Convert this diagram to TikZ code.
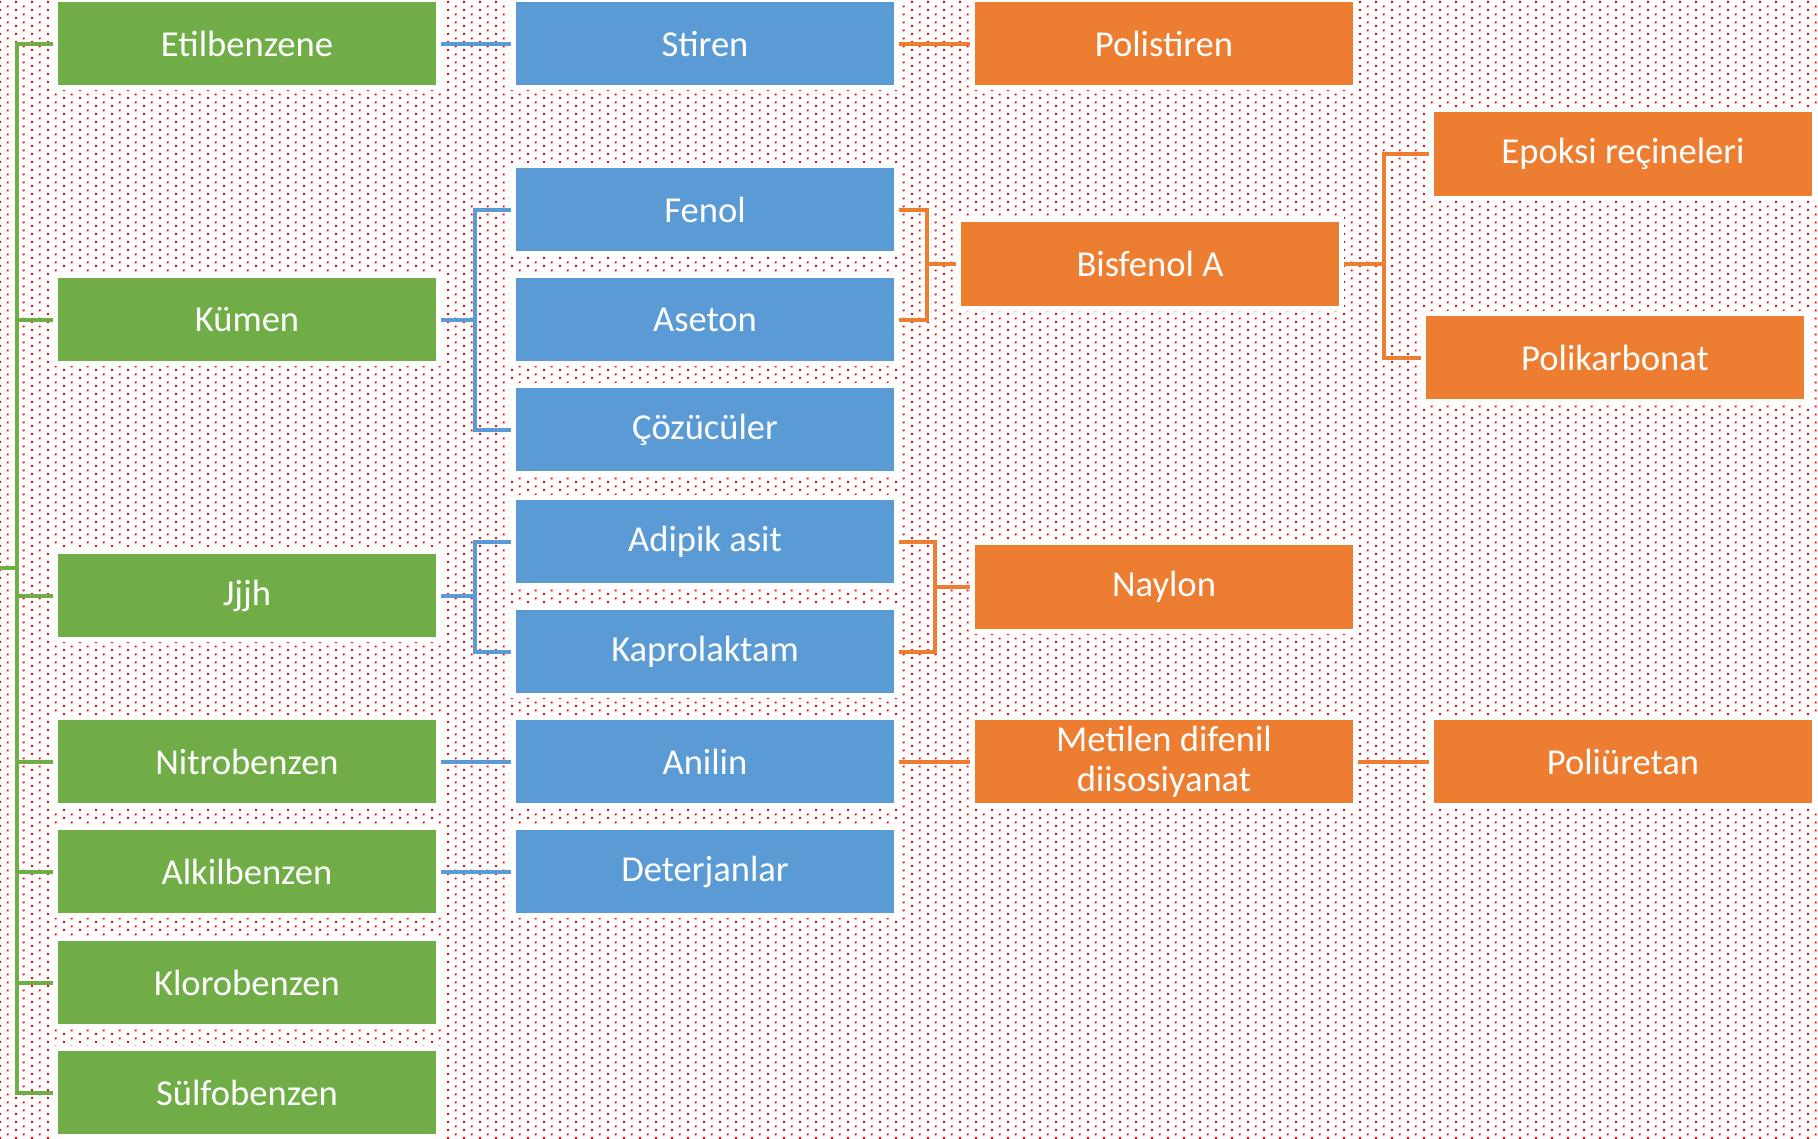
\documentclass[tikz,border=0pt]{standalone}
\usepackage{fontspec}
\setmainfont{Carlito}
\usepackage{tikz}
\usetikzlibrary{patterns}

\definecolor{grn}{HTML}{70AD47}
\definecolor{blu}{HTML}{5B9BD5}
\definecolor{org}{HTML}{ED7D31}

\pgfdeclarepatternformonly{reddots}{\pgfpointorigin}{\pgfqpoint{4.55pt}{2.28pt}}{\pgfqpoint{4.55pt}{2.28pt}}{%
  \pgfpathrectangle{\pgfqpoint{0pt}{0pt}}{\pgfqpoint{.6pt}{.6pt}}%
  \pgfpathrectangle{\pgfqpoint{2.28pt}{1.14pt}}{\pgfqpoint{.6pt}{.6pt}}%
  \pgfusepath{fill}}

\tikzset{
  box/.style={rectangle, minimum width=3.78cm, minimum height=0.83cm, inner sep=0pt,
    outer sep=0.05cm, text=white, align=center,
    font=\fontsize{10.4}{11.4}\selectfont,
    preaction={draw=white, line width=0.1cm}},
  gbox/.style={box, fill=grn},
  bbox/.style={box, fill=blu},
  obox/.style={box, fill=org},
  gl/.style={draw=grn, line width=0.04cm},
  bl/.style={draw=blu, line width=0.04cm},
  ol/.style={draw=org, line width=0.04cm}
}

\begin{document}
\begin{tikzpicture}[x=0.01cm, y=-0.01cm]
\useasboundingbox (0,0) rectangle (1818,1138);
\fill[pattern=reddots, pattern color=red] (0,0) rectangle (1818,1138);

\node[gbox] (n11) at (247,43.5) {Etilbenzene};
\node[gbox] (n12) at (247,319.5) {Kümen};
\node[gbox] (n13) at (247,595.5) {Jjjh};
\node[gbox] (n14) at (247,761.5) {Nitrobenzen};
\node[gbox] (n15) at (247,871.5) {Alkilbenzen};
\node[gbox] (n16) at (247,982.5) {Klorobenzen};
\node[gbox] (n17) at (247,1092.5) {Sülfobenzen};

\node[bbox] (n21) at (705,43.5) {Stiren};
\node[bbox] (n22) at (705,209.5) {Fenol};
\node[bbox] (n23) at (705,319.5) {Aseton};
\node[bbox] (n24) at (705,429.5) {Çözücüler};
\node[bbox] (n25) at (705,541.5) {Adipik asit};
\node[bbox] (n26) at (705,651.5) {Kaprolaktam};
\node[bbox] (n27) at (705,761.5) {Anilin};
\node[bbox] (n28) at (705,871.5) {Deterjanlar};

\node[obox] (n31) at (1164,43.5) {Polistiren};
\node[obox] (n32) at (1150,264) {Bisfenol A};
\node[obox] (n33) at (1164,587) {Naylon};
\node[obox] (n34) at (1164,761.5) {Metilen difenil\\diisosiyanat};
	\node[obox] (n41) at (1623,154) {Epoksi reçineleri};
	\node[obox] (n42) at (1615,357.5) {Polikarbonat};
	\node[obox] (n43) at (1623,761.5) {Poliüretan};

\coordinate (root) at (0,568);
\coordinate (gbus) at (17,568);
\draw[gl] (root) -- (gbus);
\foreach \n in {n11,n12,n13,n14,n15,n16,n17}
  \draw[gl] (\n.west) -| (gbus);

\draw[bl] (n11) -- (n21);
\draw[bl] (n12.east) -- ++(34,0) coordinate (kbus);
\draw[bl] (kbus) |- (n22.west);
\draw[bl] (kbus) |- (n24.west);
\draw[bl] (n13.east) -- ++(34,0) coordinate (jbus);
\draw[bl] (jbus) |- (n25.west);
\draw[bl] (jbus) |- (n26.west);
\draw[bl] (n14) -- (n27);
\draw[bl] (n15) -- (n28);

\draw[ol] (n21) -- (n31);
\draw[ol] (n32.west) -- ++(-29,0) coordinate (fbus);
\draw[ol] (fbus) |- (n22.east);
\draw[ol] (fbus) |- (n23.east);
\draw[ol] (n32.east) -- ++(40,0) coordinate (bbus);
\draw[ol] (bbus) |- (n41.west);
\draw[ol] (bbus) |- (n42.west);
\draw[ol] (n33.west) -- ++(-35,0) coordinate (nbus);
\draw[ol] (nbus) |- (n25.east);
\draw[ol] (nbus) |- (n26.east);
\draw[ol] (n27) -- (n34);
\draw[ol] (n34) -- (n43);

\end{tikzpicture}
\end{document}
